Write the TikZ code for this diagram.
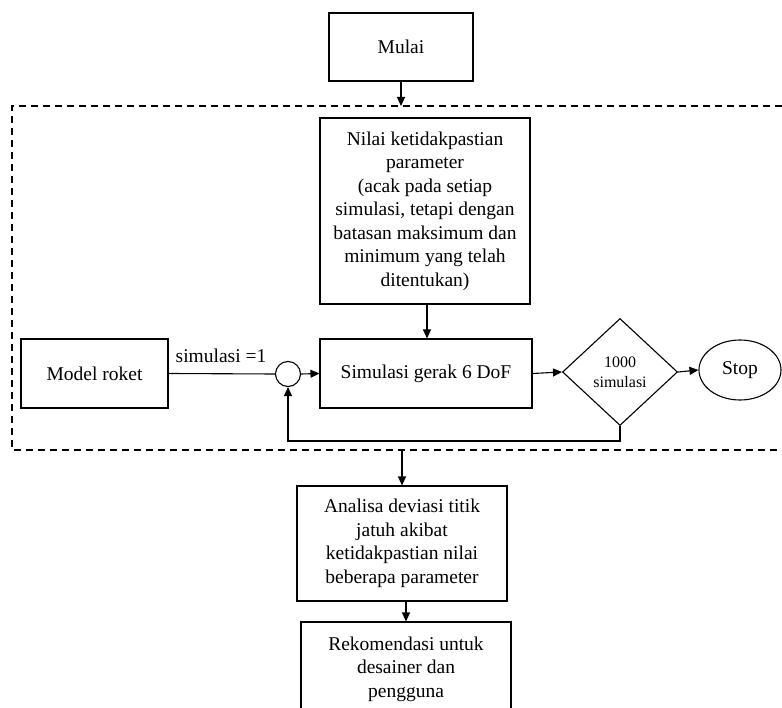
\documentclass[tikz,border=0pt]{standalone}
\usepackage{fontspec}
\setmainfont{Liberation Serif}
\usetikzlibrary{shapes.geometric,arrows.meta,calc}
\begin{document}
\begin{tikzpicture}[x=1pt,y=-1pt,
  every node/.style={font=\fontsize{19.5}{23.5}\selectfont},
  box/.style={draw,line width=1.1pt,align=center,inner sep=0pt},
  arr/.style={-{Triangle[length=9pt,width=8pt]},line width=1.1pt},
  ln/.style={line width=1.1pt},
  framed/.style={line width=1.1pt,dash pattern=on 7pt off 5pt}]
\useasboundingbox (0,0) rectangle (782,708);
% frame
\draw[framed] (782,106) -- (12,106) -- (12,450) -- (782,450);
\coordinate (ftop) at (401,106);
\coordinate (fbot) at (402,450);
% nodes
\node[box,minimum width=144pt,minimum height=68pt] (start) at (401,47) {Mulai};
\node[box,minimum width=210pt,minimum height=186pt] (nilai) at (425,211)
  {Nilai ketidakpastian\\parameter\\(acak pada setiap\\simulasi, tetapi dengan\\batasan maksimum dan\\minimum yang telah\\ditentukan)};
\node[box,minimum width=212pt,minimum height=69pt] (sim) at (426,373.5) {Simulasi gerak 6 DoF};
\node[box,minimum width=147pt,minimum height=69pt] (model) at (94.5,373.5) {Model roket};
\node[draw,circle,line width=1.1pt,minimum size=25pt,inner sep=0pt] (sum) at (288,374) {};
\node[draw,diamond,line width=1.1pt,minimum width=115pt,minimum height=107pt,inner sep=0pt,align=center,font=\fontsize{16}{20}\selectfont] (dec) at (620,372) {1000\\simulasi};
\node[draw,ellipse,line width=1.1pt,minimum width=82pt,minimum height=60pt,inner sep=0pt] (stop) at (740,370) {Stop};
\node[box,minimum width=210pt,minimum height=115pt] (ana) at (402,543.5)
  {Analisa deviasi titik\\jatuh akibat\\ketidakpastian nilai\\beberapa parameter};
\node[box,minimum width=210pt,minimum height=94pt] (rek) at (406,669)
  {Rekomendasi untuk\\desainer dan\\pengguna};
\node[anchor=base] (lbl) at (221,363) {simulasi =1};
% connectors
\draw[arr] (start.south) -- (ftop);
\draw[arr] (nilai.south -| 427,0) -- (sim.north -| 427,0);
\draw[ln] (model.east) -- (sum.west);
\draw[arr] (sum.east) -- (sim.west);
\draw[arr] (sim.east) -- (dec.west);
\draw[arr] (dec.east) -- (stop.west);
\draw[arr] (dec.south) -- (620,441) -| (sum.south);
\draw[arr] (fbot) -- (ana.north);
\draw[arr] (ana.south -| rek.north) -- (rek.north);
\end{tikzpicture}
\end{document}
